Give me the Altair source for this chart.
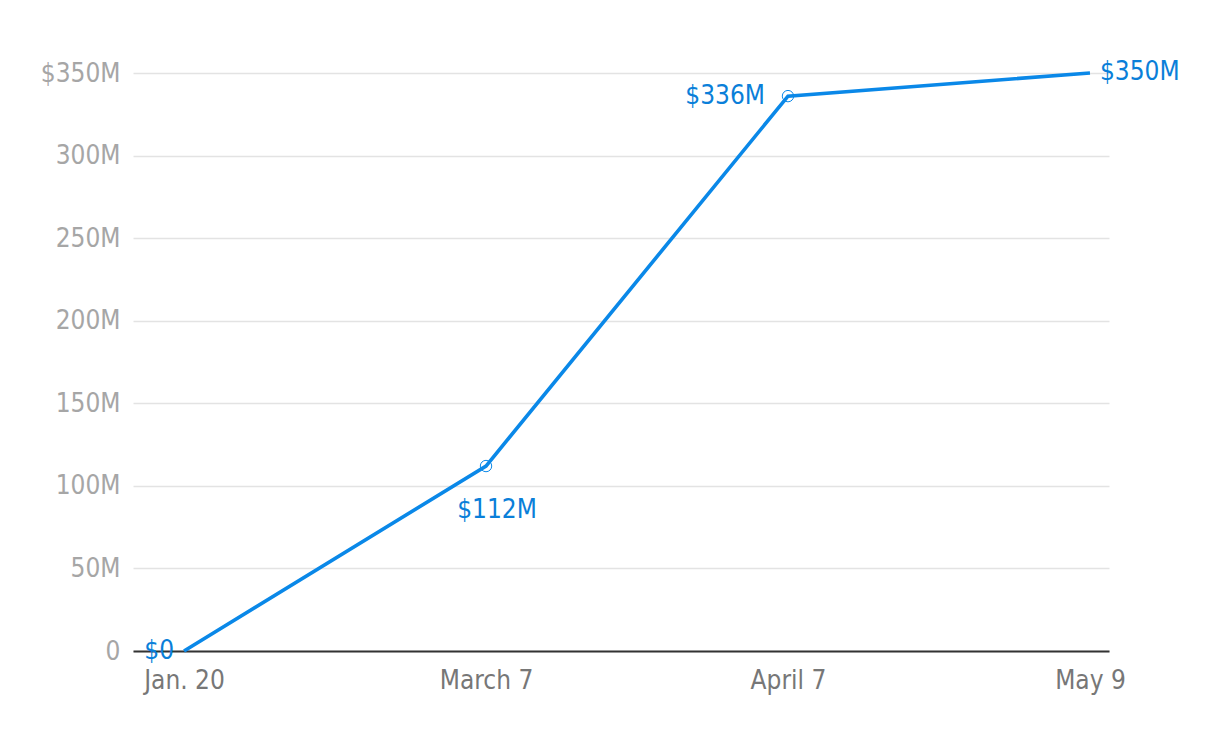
import altair as alt
import pandas as pd

dates = ["Jan. 20", "March 7", "April 7", "May 9"]
values = [0, 112, 336, 350]
value_labels = ["$0", "$112M", "$336M", "$350M"]

df = pd.DataFrame({
    "idx": list(range(len(dates))),
    "date": dates,
    "value": values,
    "label": value_labels,
})

FONT = "Liberation Sans Narrow, DejaVu Sans Condensed, sans-serif"
BLUE = "#0a88e8"
LBLUE = "#0a7fd9"

label_expr = "[" + ",".join("'%s'" % d for d in dates) + "][datum.value]"

x = alt.X("idx:Q",
          scale=alt.Scale(domain=[-0.169, 3.063], nice=False, zero=False),
          axis=alt.Axis(values=list(range(len(dates))), labelExpr=label_expr,
                        title=None, grid=False, ticks=False,
                        domain=True, domainColor="#333333", domainWidth=2,
                        labelFont=FONT, labelFontSize=26, labelColor="#777777",
                        labelPadding=16, labelFlush=False))
y = alt.Y("value:Q",
          scale=alt.Scale(domain=[0, 350], nice=False),
          axis=alt.Axis(values=[0, 50, 100, 150, 200, 250, 300, 350],
                        labelExpr="datum.value == 350 ? '$350M' : (datum.value == 0 ? '0' : datum.value + 'M')",
                        title=None, grid=True, gridColor="#e3e3e3", gridWidth=1.5,
                        ticks=False, domain=False,
                        labelFont=FONT, labelFontSize=26, labelColor="#a6a6a6",
                        labelPadding=13))

base = alt.Chart(df)

line = base.mark_line(color=BLUE, strokeWidth=3.6).encode(x=x, y=y)

circles = base.transform_filter(
    alt.FieldOneOfPredicate(field="date", oneOf=["March 7", "April 7"])
).mark_point(shape="circle", size=130, filled=False, color=BLUE, strokeWidth=1, opacity=1).encode(x=x, y=y)


def lab(name, **kw):
    return base.transform_filter(alt.datum.date == name).mark_text(
        font=FONT, fontSize=26, color=LBLUE, baseline="middle", **kw
    ).encode(x=x, y=y, text="label:N")


t0 = lab("Jan. 20", align="right", dx=-10, dy=0)
t1 = lab("March 7", align="center", dx=11, dy=44)
t2 = lab("April 7", align="right", dx=-23, dy=0)
t3 = lab("May 9", align="left", dx=10, dy=-1)

chart = alt.layer(line, circles, t0, t1, t2, t3).properties(
    width=976, height=578,
    background="white",
    autosize=alt.AutoSizeParams(type="none"),
    padding={"left": 125, "top": 65, "right": 100, "bottom": 70},
).configure_view(stroke="transparent", strokeWidth=0)

chart.save("out.html", embed_options={"renderer": "svg", "actions": False})
